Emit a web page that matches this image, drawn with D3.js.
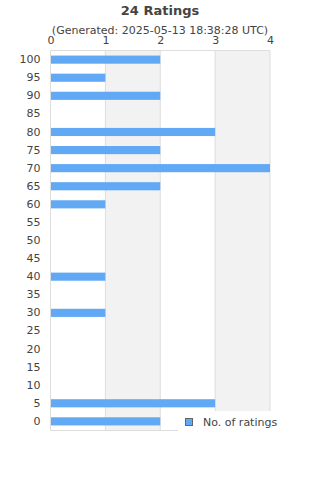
<!DOCTYPE html>
<html>
<head>
<meta charset="utf-8">
<script src="https://cdn.jsdelivr.net/npm/d3@7"></script>
<style>
  body { margin: 0; background: #fff; }
  text { font-family: "DejaVu Sans", sans-serif; fill: #444; }
</style>
</head>
<body>
<svg id="chart" width="320" height="480"></svg>
<script>
"use strict";

const ratings = ["100","95","90","85","80","75","70","65","60","55","50","45","40","35","30","25","20","15","10","5","0"];
const counts  = [2,1,2,0,3,2,4,2,1,0,0,0,1,0,1,0,0,0,0,3,2];
const xTicks  = [0,1,2,3,4];

const svg = d3.select("#chart");
const m = {l: 50.5, r: 270, t: 50.5, b: 430.5};

let x = d3.scaleLinear().domain([0, 4]).range([m.l, m.r]);
let y = d3.scaleBand().domain(ratings).range([m.t, m.b]).paddingInner(0.55).paddingOuter(0.28);

// alternating bands
svg.append("g").selectAll("rect")
  .data(xTicks.slice(0, -1))
  .join("rect")
    .attr("x", d => x(d)).attr("y", m.t)
    .attr("width", d => x(d + 1) - x(d)).attr("height", m.b - m.t)
    .attr("fill", (d, i) => i % 2 ? "#f2f2f2" : "#fff");

// grid lines
svg.append("g").selectAll("line")
  .data(xTicks)
  .join("line")
    .attr("x1", d => x(d)).attr("x2", d => x(d))
    .attr("y1", m.t).attr("y2", m.b)
    .attr("stroke", "#ddd");
svg.append("line").attr("x1", m.l).attr("x2", m.r).attr("y1", m.t).attr("y2", m.t).attr("stroke", "#ddd");
svg.append("line").attr("x1", m.l).attr("x2", m.r).attr("y1", m.b).attr("y2", m.b).attr("stroke", "#ddd");

// bars
svg.append("g").selectAll("rect")
  .data(ratings.map((r, i) => ({r: r, v: counts[i]})).filter(d => d.v > 0))
  .join("rect")
    .attr("x", x(0) + 0.5)
    .attr("y", d => y(d.r))
    .attr("width", d => x(d.v) - x(0) - 0.5)
    .attr("height", y.bandwidth())
    .attr("fill", "#62a9f5");

// axes
let xAxis = svg.append("g").attr("transform", `translate(0,${m.t - 7})`)
  .call(d3.axisTop(x).tickValues(xTicks).tickSize(0).tickPadding(0).tickFormat(d3.format("d")));
xAxis.select(".domain").remove();
xAxis.selectAll("text").style("font-size", "11px").attr("fill", "#444");

let yAxis = svg.append("g").attr("transform", `translate(${m.l - 10},0)`)
  .call(d3.axisLeft(y).tickSize(0).tickPadding(0));
yAxis.select(".domain").remove();
yAxis.selectAll("text").style("font-size", "11px").attr("fill", "#444");

// titles
svg.append("text").attr("x", 160).attr("y", 15).attr("text-anchor", "middle")
  .style("font-size", "13px").style("font-weight", "bold").text("24 Ratings");
svg.append("text").attr("x", 160).attr("y", 34).attr("text-anchor", "middle")
  .style("font-size", "11px").text("(Generated: 2025-05-13 18:38:28 UTC)");

// legend
let lg = svg.append("g");
lg.append("rect").attr("x", 178).attr("y", 411).attr("width", 142).attr("height", 24).attr("fill", "#fff");
lg.append("rect").attr("x", 185.5).attr("y", 418.5).attr("width", 7).attr("height", 7)
  .attr("fill", "#62a9f5").attr("stroke", "#666");
lg.append("text").attr("x", 203).attr("y", 426).style("font-size", "11px").text("No. of ratings");
</script>
</body>
</html>
